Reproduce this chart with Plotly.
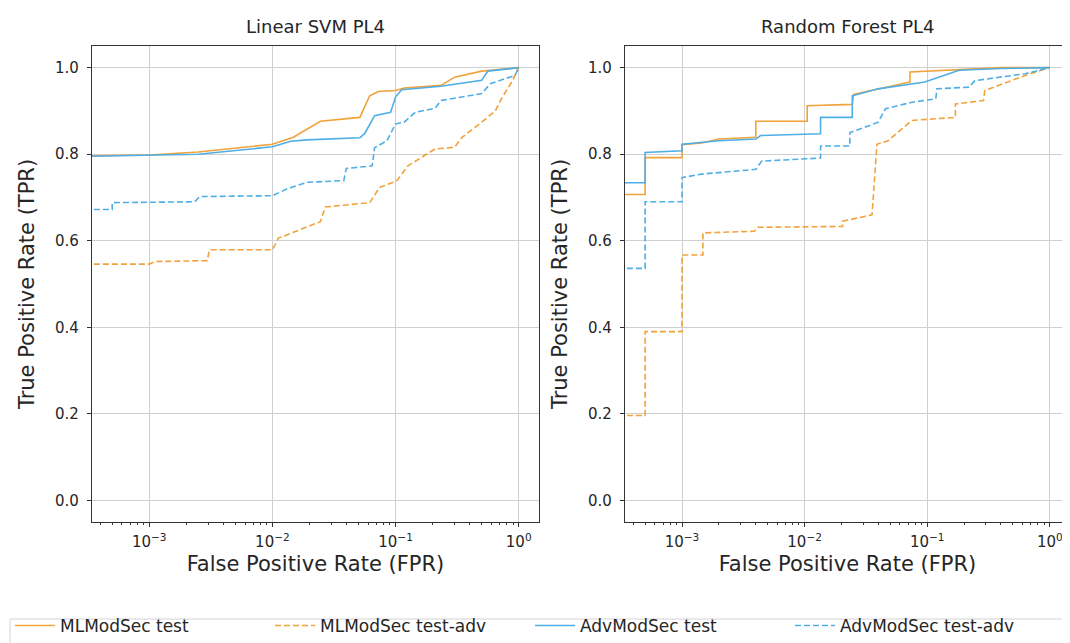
import plotly.graph_objects as go

# ---------------- data ----------------
series_names = ["MLModSec test", "MLModSec test-adv", "AdvModSec test", "AdvModSec test-adv"]
panel_titles = ["Linear SVM PL4", "Random Forest PL4"]
x_tick_values = [0.001, 0.01, 0.1, 1.0]
x_tick_labels = ["10<sup>\u22123</sup>", "10<sup>\u22122</sup>", "10<sup>\u22121</sup>", "10<sup>0</sup>"]
x_minor_mult = [2, 3, 4, 5, 6, 7, 8, 9]
x_minor_decades = [0.0001, 0.001, 0.01, 0.1, 1.0]
y_tick_values = [0.0, 0.2, 0.4, 0.6, 0.8, 1.0]

# Linear SVM PL4
svm_ml_test_fpr = [0.0003, 0.001, 0.0025, 0.01, 0.0148, 0.0245, 0.0513, 0.0617, 0.0724, 0.1, 0.1175, 0.234, 0.302, 0.501, 1.0]
svm_ml_test_tpr = [0.796, 0.798, 0.805, 0.823, 0.839, 0.876, 0.885, 0.935, 0.945, 0.947, 0.953, 0.959, 0.978, 0.992, 1.0]

svm_ml_adv_fpr = [0.0003, 0.001, 0.00112, 0.00295, 0.00309, 0.01, 0.0112, 0.0245, 0.0269, 0.0617, 0.0741, 0.0871, 0.102, 0.126, 0.162, 0.209, 0.302, 0.347, 0.501, 0.646, 0.724, 0.891, 1.0]
svm_ml_adv_tpr = [0.546, 0.546, 0.552, 0.554, 0.579, 0.579, 0.606, 0.644, 0.678, 0.688, 0.723, 0.730, 0.738, 0.773, 0.792, 0.812, 0.816, 0.839, 0.874, 0.900, 0.928, 0.970, 1.0]

svm_adv_test_fpr = [0.0003, 0.001, 0.0025, 0.01, 0.0141, 0.0191, 0.0513, 0.0562, 0.0676, 0.0912, 0.1, 0.112, 0.234, 0.501, 0.562, 1.0]
svm_adv_test_tpr = [0.795, 0.797, 0.800, 0.817, 0.830, 0.833, 0.838, 0.848, 0.889, 0.897, 0.932, 0.949, 0.957, 0.971, 0.992, 1.0]

svm_adv_adv_fpr = [0.0003, 0.0005, 0.0005, 0.00234, 0.00257, 0.01, 0.0132, 0.0191, 0.038, 0.0398, 0.0646, 0.0676, 0.0851, 0.1, 0.1175, 0.145, 0.209, 0.234, 0.501, 0.589, 0.933, 1.0]
svm_adv_adv_tpr = [0.672, 0.672, 0.688, 0.690, 0.702, 0.704, 0.720, 0.735, 0.739, 0.767, 0.773, 0.815, 0.831, 0.870, 0.874, 0.897, 0.906, 0.924, 0.940, 0.963, 0.982, 1.0]

# Random Forest PL4
rf_ml_test_fpr = [0.0003, 0.0005, 0.0005, 0.001, 0.001, 0.00145, 0.002, 0.004, 0.004, 0.0105, 0.0105, 0.0245, 0.0251, 0.0398, 0.0724, 0.0724, 0.182, 0.398, 1.0]
rf_ml_test_tpr = [0.707, 0.707, 0.792, 0.792, 0.822, 0.826, 0.835, 0.839, 0.876, 0.876, 0.912, 0.915, 0.938, 0.951, 0.967, 0.990, 0.995, 1.0, 1.0]

rf_ml_adv_fpr = [0.0003, 0.0005, 0.0005, 0.001, 0.001, 0.00148, 0.00148, 0.00389, 0.00417, 0.0204, 0.0204, 0.0355, 0.0389, 0.0479, 0.075, 0.17, 0.17, 0.288, 0.295, 0.631, 1.0]
rf_ml_adv_tpr = [0.196, 0.196, 0.390, 0.390, 0.567, 0.567, 0.618, 0.622, 0.631, 0.633, 0.645, 0.660, 0.823, 0.831, 0.878, 0.885, 0.916, 0.924, 0.947, 0.982, 1.0]

rf_adv_test_fpr = [0.0003, 0.0005, 0.0005, 0.001, 0.001, 0.002, 0.004, 0.00437, 0.0135, 0.0135, 0.0245, 0.0245, 0.0398, 0.0955, 0.182, 0.398, 1.0]
rf_adv_test_tpr = [0.734, 0.734, 0.804, 0.808, 0.823, 0.831, 0.835, 0.843, 0.847, 0.885, 0.885, 0.935, 0.951, 0.967, 0.994, 0.998, 1.0]

rf_adv_adv_fpr = [0.0003, 0.0005, 0.0005, 0.001, 0.001, 0.00145, 0.004, 0.00447, 0.0135, 0.0135, 0.0234, 0.0234, 0.0309, 0.0398, 0.0457, 0.075, 0.1175, 0.12, 0.219, 0.245, 0.631, 1.0]
rf_adv_adv_tpr = [0.536, 0.536, 0.690, 0.690, 0.746, 0.754, 0.765, 0.784, 0.791, 0.819, 0.819, 0.850, 0.862, 0.874, 0.905, 0.920, 0.928, 0.951, 0.955, 0.970, 0.986, 1.0]

colors = ["#F2A23A", "#F2A23A", "#4EAEE6", "#4EAEE6"]
dashes = ["solid", "6px,3px", "solid", "6px,3px"]

panels = [
    [(svm_ml_test_fpr, svm_ml_test_tpr), (svm_ml_adv_fpr, svm_ml_adv_tpr),
     (svm_adv_test_fpr, svm_adv_test_tpr), (svm_adv_adv_fpr, svm_adv_adv_tpr)],
    [(rf_ml_test_fpr, rf_ml_test_tpr), (rf_ml_adv_fpr, rf_ml_adv_tpr),
     (rf_adv_test_fpr, rf_adv_test_tpr), (rf_adv_adv_fpr, rf_adv_adv_tpr)],
]

x_minor_values = [d * m for d in x_minor_decades for m in x_minor_mult]

# ---------------- figure ----------------
W, H = 1070, 643
FONT = "DejaVu Sans"
TXT = "#262626"

fig = go.Figure()
for p, curves in enumerate(panels):
    xa = "x" if p == 0 else "x2"
    ya = "y" if p == 0 else "y2"
    for i, (fx, ty) in enumerate(curves):
        fig.add_trace(go.Scatter(
            x=fx, y=ty, mode="lines", name=series_names[i],
            line=dict(color=colors[i], width=1.6, dash=dashes[i]),
            xaxis=xa, yaxis=ya, showlegend=(p == 0), legendgroup=series_names[i],
        ))

def xdom(l, r):
    return [l / W, r / W]

ydom = [1 - 514 / H, 1 - 38 / H]

common_x = dict(
    type="log", range=[-3.465, 0.165],
    tickvals=x_tick_values, ticktext=x_tick_labels,
    showgrid=True, gridcolor="#cfcfcf", gridwidth=1, zeroline=False,
    showline=True, mirror=True, linecolor="#333333", linewidth=1.2,
    ticks="outside", ticklen=4, tickcolor="#333333", ticklabelstandoff=2,
    minor=dict(tickvals=x_minor_values, ticks="outside", ticklen=2, tickcolor="#333333", showgrid=False),
    tickfont=dict(family=FONT, size=15, color=TXT),
    title=dict(text="False Positive Rate (FPR)", font=dict(family=FONT, size=21, color=TXT), standoff=6),
)
common_y = dict(
    range=[-0.05, 1.05], tickvals=y_tick_values, tickformat=".1f",
    showgrid=True, gridcolor="#cfcfcf", gridwidth=1, zeroline=False,
    showline=True, mirror=True, linecolor="#333333", linewidth=1.2,
    ticks="outside", ticklen=4, tickcolor="#333333", ticklabelstandoff=5,
    tickfont=dict(family=FONT, size=15, color=TXT),
    title=dict(text="True Positive Rate (TPR)", font=dict(family=FONT, size=21, color=TXT), standoff=14),
    domain=ydom,
)

fig.update_layout(
    width=W, height=H,
    paper_bgcolor="white", plot_bgcolor="white",
    margin=dict(l=0, r=0, t=0, b=0, autoexpand=False),
    font=dict(family=FONT, color=TXT),
    xaxis=dict(common_x, domain=xdom(84, 531), anchor="y"),
    yaxis=dict(common_y, anchor="x"),
    xaxis2=dict(common_x, domain=xdom(617, 1062), anchor="y2"),
    yaxis2=dict(common_y, anchor="x2"),
    legend=dict(
        orientation="h", x=2 / W, y=1 - 600 / H, xanchor="left", yanchor="top",
        entrywidth=205, entrywidthmode="pixels", itemwidth=40,
        borderwidth=0, bgcolor="rgba(0,0,0,0)",
        font=dict(family=FONT, size=17, color=TXT),
    ),
    shapes=[
        dict(type="rect", xref="paper", yref="paper",
             x0=2 / W, x1=1080 / W, y0=1 - 660 / H, y1=1 - 611 / H,
             line=dict(color="#d4d4d4", width=1), fillcolor="rgba(0,0,0,0)", layer="below"),
    ],
    annotations=[
        dict(text=panel_titles[0], x=(84 + 531) / 2 / W, y=1 - 18 / H, xref="paper", yref="paper",
             showarrow=False, xanchor="center", yanchor="middle", font=dict(family=FONT, size=18, color=TXT)),
        dict(text=panel_titles[1], x=(617 + 1062) / 2 / W, y=1 - 18 / H, xref="paper", yref="paper",
             showarrow=False, xanchor="center", yanchor="middle", font=dict(family=FONT, size=18, color=TXT)),
    ],
)

fig.write_html("out.html")
